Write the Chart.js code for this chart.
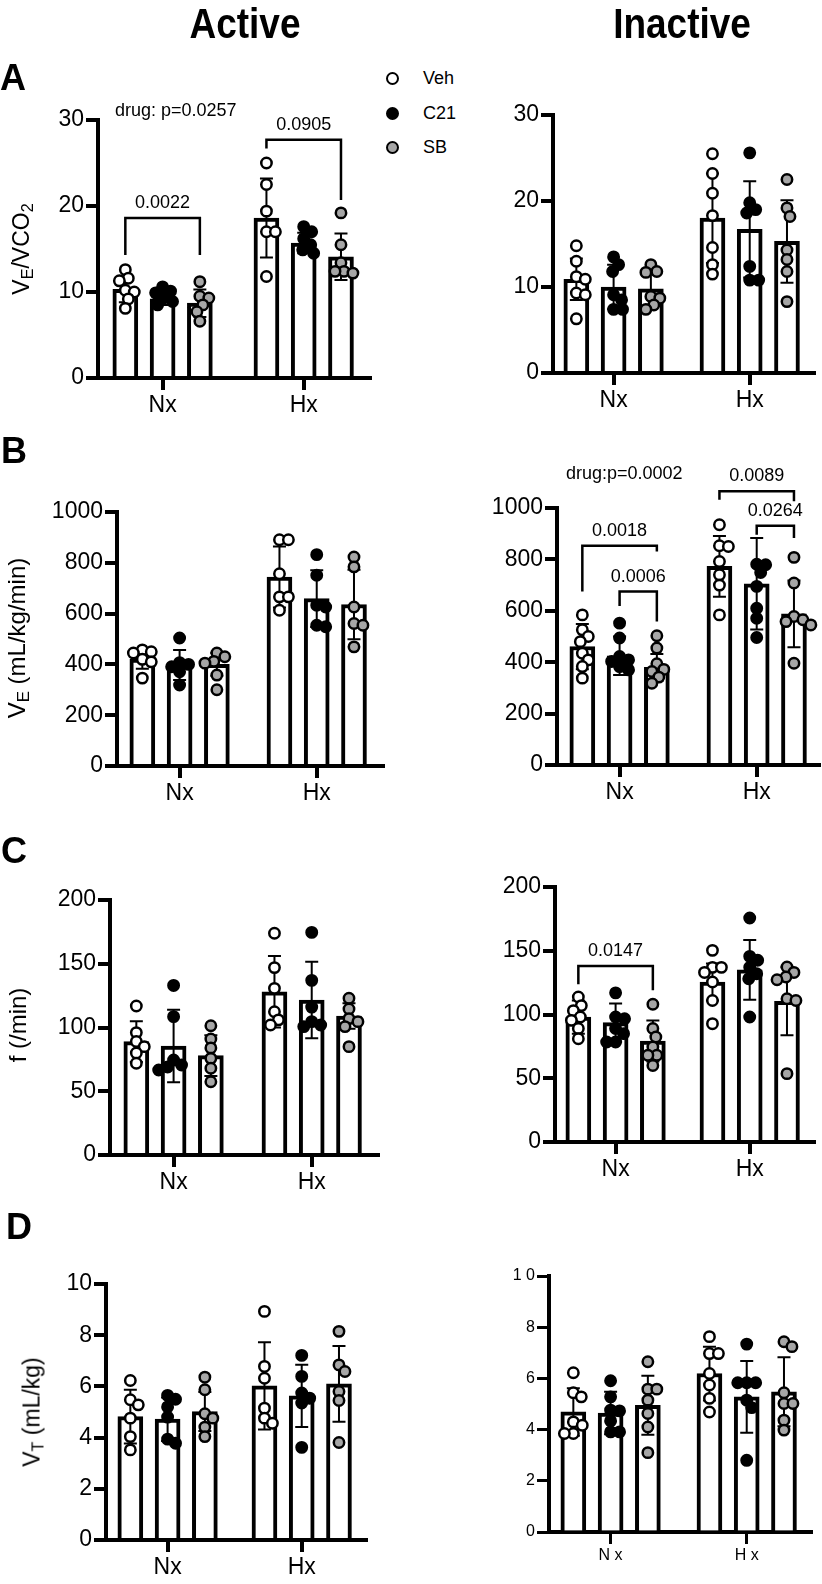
<!DOCTYPE html>
<html>
<head>
<meta charset="utf-8">
<script src="https://cdn.jsdelivr.net/npm/chart.js@4.4.1/dist/chart.umd.min.js"></script>
<style>
  body { margin: 0; background: #fff; }
  #fig { position: relative; width: 822px; height: 1584px; overflow: hidden; font-family: "Liberation Sans", Arial, sans-serif; color: #000; }
  #fig canvas { position: absolute; }
  .t { position: absolute; white-space: nowrap; line-height: 1; z-index: 2; }
  .yl { position: absolute; white-space: nowrap; line-height: 1; z-index: 2; transform: translate(-50%, -50%) rotate(-90deg); }
  sub { font-size: 0.7em; vertical-align: -0.25em; line-height: 0; }
  .dot { position: absolute; width: 13px; height: 13px; box-sizing: border-box; border: 2.5px solid #000; border-radius: 50%; z-index: 2; }
</style>
</head>
<body>
<div id="fig">
  <!-- column titles -->
  <div class="t" style="left:245px;top:2px;font-size:43px;font-weight:bold;transform:translateX(-50%) scaleX(0.86)">Active</div>
  <div class="t" style="left:682px;top:2px;font-size:43px;font-weight:bold;transform:translateX(-50%) scaleX(0.86)">Inactive</div>

  <!-- panel letters -->
  <div class="t" style="left:0;top:60px;font-size:36px;font-weight:bold">A</div>
  <div class="t" style="left:1px;top:433px;font-size:36px;font-weight:bold">B</div>
  <div class="t" style="left:1px;top:833px;font-size:36px;font-weight:bold">C</div>
  <div class="t" style="left:6px;top:1209px;font-size:36px;font-weight:bold">D</div>

  <!-- legend -->
  <div class="dot" style="left:386px;top:72px;background:#fff"></div>
  <div class="dot" style="left:386px;top:107px;background:#000"></div>
  <div class="dot" style="left:386px;top:141px;background:#a6a6a6"></div>
  <div class="t" style="left:423px;top:69px;font-size:18px">Veh</div>
  <div class="t" style="left:423px;top:104px;font-size:18px">C21</div>
  <div class="t" style="left:423px;top:138px;font-size:18px">SB</div>

  <!-- axis titles -->
  <div class="yl" style="left:21px;top:249px;font-size:23px">V<sub>E</sub>/VCO<sub>2</sub></div>
  <div class="yl" style="left:17px;top:638px;font-size:24px">V<sub>E</sub> (mL/kg/min)</div>
  <div class="yl" style="left:18px;top:1025px;font-size:24px">f (/min)</div>
  <div class="yl" style="left:32px;top:1412px;font-size:23px">V<sub>T</sub> (mL/kg)</div>

  <!-- overall drug effects -->
  <div class="t" style="left:115px;top:101px;font-size:18px">drug: p=0.0257</div>
  <div class="t" style="left:566px;top:464px;font-size:18px">drug:p=0.0002</div>
</div>
<script>
const groups = ['Nx', 'Hx'];
const drugs = ['Veh', 'C21', 'SB'];
const dInaGroups = ['N x', 'H x'];
const dInaTicks = ['0', '2', '4', '6', '8', '1 0'];

// rows: Veh, C21, SB; columns: Nx, Hx
// A  VE/VCO2
const aActMean = [[10.3, 18.6], [9.2, 15.7], [8.7, 14.1]];
const aActSd = [[1.5, 4.6], [0.7, 1.2], [1.6, 2.7]];
const aActPts = [
  [[12.6, 11.6, 11.3, 10.2, 10.0, 9.2, 8.1], [25.0, 22.5, 19.4, 17.0, 17.0, 11.8]],
  [[10.6, 10.1, 9.9, 9.3, 8.9, 8.5], [17.6, 17.0, 16.2, 15.5, 14.9, 14.5]],
  [[11.2, 9.5, 9.3, 8.5, 7.7, 6.6], [19.2, 15.5, 13.4, 12.4, 12.4, 12.2]]
];
// [group, from bar, to bar, top, left leg end, right leg end, label]
const aActBrackets = [[0, 0, 2, 18.6, 14.3, 14.3, '0.0022'], [1, 0, 2, 27.7, 26.7, 20.7, '0.0905']];

const aInaMean = [[10.9, 18.0], [10.0, 16.7], [9.8, 15.3]];
const aInaSd = [[2.4, 5.2], [2.6, 5.6], [2.0, 4.8]];
const aInaPts = [
  [[14.8, 13.0, 11.2, 10.9, 9.3, 9.1, 6.3], [25.5, 23.2, 20.9, 18.3, 14.6, 12.6, 11.5]],
  [[13.5, 12.6, 11.8, 9.1, 8.5, 7.4, 7.4], [25.6, 19.8, 19.0, 18.6, 12.4, 10.8, 10.8]],
  [[12.6, 11.8, 11.7, 8.9, 8.7, 7.9, 7.4], [22.5, 19.2, 18.2, 14.3, 13.2, 11.8, 8.3]]
];

// B  VE
const bActMean = [[421, 744], [398, 659], [400, 636]];
const bActSd = [[38, 120], [59, 112], [45, 137]];
const bActPts = [
  [[457, 450, 445, 420, 410, 346], [891, 891, 757, 666, 666, 613]],
  [[504, 407, 400, 391, 371, 319], [832, 751, 633, 626, 554, 548]],
  [[445, 430, 412, 405, 358, 300], [823, 784, 626, 561, 554, 469]]
];

const bInaMean = [[461, 773], [425, 705], [380, 588]];
const bInaSd = [[88, 118], [75, 178], [52, 130]];
const bInaPts = [
  [[584, 526, 500, 480, 435, 409, 383, 338], [935, 853, 850, 792, 740, 700, 584]],
  [[552, 494, 422, 409, 403, 383, 370], [781, 779, 749, 695, 610, 571, 496]],
  [[503, 455, 394, 372, 364, 342, 318], [808, 708, 578, 565, 558, 545, 396]]
];
const bInaBrackets = [
  [0, 0, 2, 853, 675, 831, '0.0018'], [0, 1, 2, 675, 619, 558, '0.0006'],
  [1, 0, 2, 1065, 1032, 1026, '0.0089'], [1, 1, 2, 931, 896, 883, '0.0264']
];

// C  f
const cActMean = [[88.9, 128], [85.5, 121.6], [78, 109]];
const cActSd = [[16, 28], [28.5, 30], [16, 10]];
const cActPts = [
  [[116.9, 96, 89, 85, 80, 72], [173.9, 147, 130.7, 112.4, 106, 102]],
  [[133, 108.5, 74.5, 70.6, 69, 66.7], [174.6, 137, 116, 104.6, 102, 100.7]],
  [[101.4, 91, 84, 75.8, 68, 57.5], [122.9, 114.5, 107, 104.6, 100.7, 85]]
];

const cInaMean = [[98, 125.5], [93.6, 135], [79.2, 110.4]];
const cInaSd = [[13, 14.5], [15, 23.5], [16, 26.7]];
const cInaPts = [
  [[113.7, 107, 103, 98, 95.4, 89, 81], [150.3, 137, 137, 133, 125.5, 111, 92.8]],
  [[117, 98, 96.7, 89, 85, 78.4, 78.4], [175.7, 145.6, 142.5, 137, 132, 128, 98]],
  [[108, 89, 82.4, 74.5, 68, 68, 60], [137.3, 133, 129.4, 127.3, 112.4, 111, 53.6]]
];
const cInaBrackets = [[0, 0, 2, 138, 123.7, 119, '0.0147']];

// D  VT
const dActMean = [[4.82, 6.02], [4.72, 5.63], [5.02, 6.1]];
const dActSd = [[1.05, 1.7], [0.85, 1.22], [0.76, 1.48]];
const dActPts = [
  [[6.23, 5.48, 5.28, 4.76, 4.04, 3.52], [8.93, 6.78, 6.32, 5.15, 4.76, 4.56]],
  [[5.65, 5.5, 5.2, 4.8, 3.94, 3.78], [7.21, 6.39, 5.74, 5.54, 5.35, 3.62]],
  [[6.36, 5.87, 4.93, 4.76, 4.41, 4.04], [8.15, 6.84, 6.58, 5.8, 5.45, 3.81]]
];

const dInaMean = [[4.69, 6.19], [4.65, 5.28], [4.95, 5.48]];
const dInaSd = [[0.93, 1.05], [0.83, 1.4], [1.15, 1.35]];
const dInaPts = [
  [[6.22, 5.44, 5.28, 4.3, 4.17, 3.85, 3.85], [7.63, 6.97, 6.97, 6.19, 5.74, 5.22, 4.69]],
  [[5.91, 5.28, 4.76, 4.73, 4.34, 3.91, 3.91], [7.34, 5.83, 5.83, 5.83, 5.15, 4.86, 2.8]],
  [[6.65, 5.58, 5.58, 5.15, 4.63, 4.1, 3.1], [7.43, 7.24, 5.44, 5.02, 5.02, 4.37, 3.98]]
];

const FONT = '"Liberation Sans", Arial, sans-serif';
const fills = ['#ffffff', '#000000', '#a6a6a6'];
const SLOT = 37.5, DOT = 13, PAD_TOP = 120, Y_W = 90, X_H = 50, PAD_R = 6;

// ax/ae = x axis start/end, nx/hx = group tick x, yt/y0 = y of axis max / zero (page px)
const panels = [
  { mean: aActMean, sd: aActSd, pts: aActPts, br: aActBrackets, yMax: 30, step: 10, ax: 98, ae: 372, nx: 163, hx: 305, yt: 120, y0: 378 },
  { mean: aInaMean, sd: aInaSd, pts: aInaPts, br: [], yMax: 30, step: 10, ax: 553, ae: 816, nx: 614, hx: 751, yt: 115, y0: 373 },
  { mean: bActMean, sd: bActSd, pts: bActPts, br: [], yMax: 1000, step: 200, ax: 117, ae: 385, nx: 180, hx: 318, yt: 512, y0: 766 },
  { mean: bInaMean, sd: bInaSd, pts: bInaPts, br: bInaBrackets, yMax: 1000, step: 200, ax: 557, ae: 821, nx: 620, hx: 758, yt: 508, y0: 765 },
  { mean: cActMean, sd: cActSd, pts: cActPts, br: [], yMax: 200, step: 50, ax: 110, ae: 380, nx: 174, hx: 313, yt: 900, y0: 1155 },
  { mean: cInaMean, sd: cInaSd, pts: cInaPts, br: cInaBrackets, yMax: 200, step: 50, ax: 555, ae: 816, nx: 616, hx: 751, yt: 887, y0: 1142 },
  { mean: dActMean, sd: dActSd, pts: dActPts, br: [], yMax: 10, step: 2, ax: 106, ae: 368, nx: 168, hx: 303, yt: 1284, y0: 1540 },
  { mean: dInaMean, sd: dInaSd, pts: dInaPts, br: [], yMax: 10, step: 2, ax: 549, ae: 813, nx: 611, hx: 748, yt: 1276, y0: 1532, small: true }
];

// spread overlapping dots sideways (pixels), allowing some overlap like the original
function swarm(vals, pxPerY) {
  const placed = [];
  const gap = DOT * 0.68;
  return vals.map(v => {
    const y = v * pxPerY;
    let dx = 0;
    for (let i = 0; i < 80; i++) {
      const c = (i % 2 ? 1 : -1) * Math.ceil(i / 2);
      if (placed.every(p => (p.x - c) ** 2 + (p.y - y) ** 2 >= gap * gap)) { dx = c; break; }
    }
    placed.push({ x: dx, y });
    return dx;
  });
}

function extras(p) {
  return {
    id: 'extras',
    afterDatasetDraw(chart, args) {
      if (chart.data.datasets[args.index].type !== 'bar') return;
      const k = args.index, y = chart.scales.y, ctx = chart.ctx;
      ctx.save();
      ctx.strokeStyle = '#000';
      ctx.lineWidth = 2;
      args.meta.data.forEach((bar, g) => {
        const top = y.getPixelForValue(p.mean[k][g] + p.sd[k][g]);
        const bot = y.getPixelForValue(p.mean[k][g] - p.sd[k][g]);
        ctx.beginPath();
        ctx.moveTo(bar.x, top); ctx.lineTo(bar.x, bot);
        ctx.moveTo(bar.x - 6.5, top); ctx.lineTo(bar.x + 6.5, top);
        ctx.moveTo(bar.x - 6.5, bot); ctx.lineTo(bar.x + 6.5, bot);
        ctx.stroke();
      });
      ctx.restore();
    },
    afterDraw(chart) {
      const y = chart.scales.y, ctx = chart.ctx;
      ctx.save();
      ctx.strokeStyle = '#000';
      ctx.fillStyle = '#000';
      ctx.lineWidth = 2.5;
      ctx.font = '18px ' + FONT;
      ctx.textAlign = 'center';
      ctx.textBaseline = 'alphabetic';
      p.br.forEach(([g, a, b, top, la, lb, label]) => {
        const xa = chart.getDatasetMeta(a).data[g].x;
        const xb = chart.getDatasetMeta(b).data[g].x;
        const yt = y.getPixelForValue(top);
        ctx.beginPath();
        ctx.moveTo(xa, y.getPixelForValue(la));
        ctx.lineTo(xa, yt);
        ctx.lineTo(xb, yt);
        ctx.lineTo(xb, y.getPixelForValue(lb));
        ctx.stroke();
        ctx.fillText(label, (xa + xb) / 2, yt - 10);
      });
      ctx.restore();
    }
  };
}

const fig = document.getElementById('fig');
panels.forEach(p => {
  const u = p.hx - p.nx;
  const plotH = p.y0 - p.yt;
  const W = Y_W + (p.ae - p.ax) + PAD_R;
  const H = PAD_TOP + plotH + X_H;
  const cv = document.createElement('canvas');
  cv.width = W; cv.height = H;
  cv.style.left = (p.ax - Y_W) + 'px';
  cv.style.top = (p.yt - PAD_TOP) + 'px';
  cv.style.width = W + 'px';
  cv.style.height = H + 'px';
  fig.appendChild(cv);

  const pxPerY = plotH / p.yMax;
  const fs = p.small ? 16 : 23;
  const tw = p.small ? 3 : 4;
  const xLabels = p.small ? dInaGroups : groups;

  const bars = drugs.map((d, k) => ({
    type: 'bar', label: d, order: 2,
    data: groups.map((g, gi) => ({ x: gi + (k - 1) * SLOT / u, y: p.mean[k][gi] })),
    backgroundColor: '#fff', borderColor: '#000', borderWidth: 4,
    barThickness: 25, grouped: false, clip: false
  }));
  const dots = drugs.map((d, k) => ({
    type: 'scatter', label: d, order: 1,
    data: p.pts[k].flatMap((vals, gi) => {
      const off = swarm(vals, pxPerY);
      return vals.map((v, j) => ({ x: gi + ((k - 1) * SLOT + off[j]) / u, y: v }));
    }),
    pointRadius: 5.2, pointBorderWidth: 2.5,
    pointBackgroundColor: fills[k], pointBorderColor: '#000',
    showLine: false, clip: false
  }));

  new Chart(cv, {
    type: 'bar',
    data: { datasets: [...bars, ...dots] },
    options: {
      responsive: false,
      animation: false,
      events: [],
      layout: { padding: { top: PAD_TOP, right: PAD_R, left: 0, bottom: 0 } },
      plugins: { legend: { display: false }, tooltip: { enabled: false } },
      scales: {
        x: {
          type: 'linear', bounds: 'data', offset: false,
          min: -(p.nx - p.ax) / u, max: 1 + (p.ae - p.hx) / u,
          afterBuildTicks: s => { s.ticks = [{ value: 0 }, { value: 1 }]; },
          afterFit: s => { s.height = X_H; },
          ticks: { callback: (v, i) => xLabels[i], font: { family: FONT, size: fs }, color: '#000', padding: 2, maxRotation: 0, autoSkip: false },
          grid: { offset: false, drawOnChartArea: false, drawTicks: true, tickLength: 12, lineWidth: tw, tickWidth: tw, color: '#000', tickColor: '#000' },
          border: { display: true, width: 4, color: '#000' }
        },
        y: {
          min: 0, max: p.yMax,
          afterFit: s => { s.width = Y_W; },
          ticks: {
            stepSize: p.step,
            callback: (v, i) => p.small ? dInaTicks[i] : String(v),
            font: { family: FONT, size: fs }, color: '#000', padding: 2
          },
          grid: { drawOnChartArea: false, drawTicks: true, tickLength: 12, lineWidth: tw, tickWidth: tw, color: '#000', tickColor: '#000' },
          border: { display: true, width: 4, color: '#000' }
        }
      }
    },
    plugins: [extras(p)]
  });
});
</script>
</body>
</html>
